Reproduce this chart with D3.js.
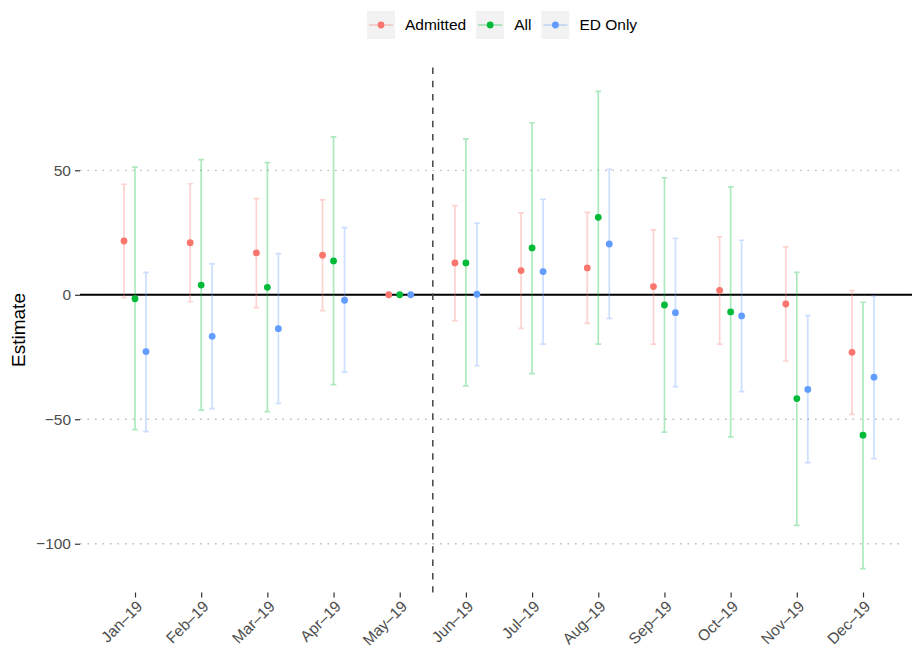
<!DOCTYPE html>
<html>
<head>
<meta charset="utf-8">
<script src="https://cdn.jsdelivr.net/npm/d3@7"></script>
<style>
  body { margin: 0; background: #fff; }
  svg { font-family: "Liberation Sans", Arial, sans-serif; }
</style>
</head>
<body>
<svg width="912" height="650"></svg>
<script>
// ---- data ----
const months = ['Jan\u201319', 'Feb\u201319', 'Mar\u201319', 'Apr\u201319', 'May\u201319', 'Jun\u201319',
                'Jul\u201319', 'Aug\u201319', 'Sep\u201319', 'Oct\u201319', 'Nov\u201319', 'Dec\u201319'];
const seriesNames = ['Admitted', 'All', 'ED Only'];
const seriesColors = ['#F8766D', '#00BA38', '#619CFF'];

const admittedEst = [21.6, 20.9, 16.8, 15.9, 0, 12.8, 9.7, 10.8, 3.3, 1.8, -3.7, -23.1];
const admittedLo  = [-1.2, -2.8, -5.2, -6.4, 0, -10.4, -13.5, -11.5, -19.8, -19.8, -26.6, -48.0];
const admittedHi  = [44.4, 44.6, 38.6, 38.1, 0, 35.8, 32.9, 33.1, 26.1, 23.3, 19.2, 1.7];

const allEst = [-1.6, 3.9, 3.0, 13.6, 0, 12.8, 18.8, 31.1, -4.1, -6.9, -41.7, -56.4];
const allLo  = [-54.2, -46.3, -46.9, -36.1, 0, -36.6, -31.7, -19.8, -55.2, -57.1, -92.6, -110.0];
const allHi  = [51.3, 54.3, 53.1, 63.4, 0, 62.6, 69.1, 81.7, 47.0, 43.3, 9.0, -3.0];

const edEst = [-22.8, -16.7, -13.6, -2.2, 0, 0.2, 9.3, 20.4, -7.2, -8.5, -38.0, -33.1];
const edLo  = [-55.0, -45.7, -43.6, -31.1, 0, -28.5, -19.8, -9.5, -36.9, -38.9, -67.4, -65.8];
const edHi  = [9.0, 12.4, 16.5, 27.0, 0, 28.8, 38.3, 50.4, 22.7, 21.9, -8.4, -0.5];

const yTicks = [-100, -50, 0, 50];
const cutAfter = 'May\u201319';   // dashed line sits between May and Jun

// build long table
const est = [admittedEst, allEst, edEst];
const lo = [admittedLo, allLo, edLo];
const hi = [admittedHi, allHi, edHi];
const rows = [];
seriesNames.forEach((s, si) => {
    months.forEach((m, mi) => {
        rows.push({ series: s, month: m, est: est[si][mi], lo: lo[si][mi], hi: hi[si][mi] });
    });
});

// ---- layout ----
const panel = { left: 80, right: 910, top: 67.5, bottom: 592.5 };
const svg = d3.select('svg');
const textColor = '#4d4d4d';

// ---- scales ----
const x = d3.scalePoint().domain(months).range([135, 863]);
const dodge = d3.scalePoint().domain(seriesNames).range([-11, 11]);
const color = d3.scaleOrdinal().domain(seriesNames).range(seriesColors);

const ext = [d3.min(rows, d => d.lo), d3.max(rows, d => d.hi)];
const pad = (ext[1] - ext[0]) * 0.05;
const y = d3.scaleLinear().domain([ext[0] - pad, ext[1] + pad]).range([panel.bottom, panel.top]);

// ---- grid ----
svg.append('g')
    .selectAll('line')
    .data(yTicks)
    .enter()
    .append('line')
    .attr('x1', panel.left)
    .attr('x2', panel.right - 6)
    .attr('y1', d => y(d))
    .attr('y2', d => y(d))
    .attr('stroke', '#bdbdbd')
    .attr('stroke-width', 1.3)
    .attr('stroke-dasharray', '1.6,5.9');

// ---- y axis ----
const yAxis = svg.append('g')
    .attr('transform', `translate(${panel.left},0)`)
    .call(d3.axisLeft(y).tickValues(yTicks).tickSize(5).tickPadding(4)
        .tickFormat(d => d < 0 ? '\u2212' + Math.abs(d) : d));
yAxis.select('.domain').remove();
yAxis.selectAll('.tick line').attr('stroke', '#333').attr('stroke-width', 1.2);
yAxis.selectAll('.tick text')
    .attr('fill', textColor)
    .style('font-size', '15.5px');

// ---- x axis ----
const xAxis = svg.append('g')
    .attr('transform', `translate(0,${panel.bottom})`)
    .call(d3.axisBottom(x).tickSize(5).tickPadding(0));
xAxis.select('.domain').remove();
xAxis.selectAll('.tick line').attr('stroke', '#333').attr('stroke-width', 1.2);
xAxis.selectAll('.tick text')
    .attr('fill', textColor)
    .style('font-size', '15.5px')
    .attr('text-anchor', 'end')
    .attr('dy', null)
    .attr('y', 0)
    .attr('dominant-baseline', 'hanging')
    .attr('transform', 'translate(0,7) rotate(-45)');

// ---- zero line and cut line ----
svg.append('line')
    .attr('x1', panel.left)
    .attr('x2', 912)
    .attr('y1', y(0))
    .attr('y2', y(0))
    .attr('stroke', '#000')
    .attr('stroke-width', 2);

const cutX = x(cutAfter) + x.step() / 2;
svg.append('line')
    .attr('x1', cutX)
    .attr('x2', cutX)
    .attr('y1', panel.top)
    .attr('y2', panel.bottom)
    .attr('stroke', '#444')
    .attr('stroke-width', 1.5)
    .attr('stroke-dasharray', '6.5,6.8');

// ---- error bars ----
const bars = rows.filter(d => d.hi !== d.lo);
const eb = svg.append('g').attr('class', 'errorbars');
const capW = 2.8;
bars.forEach(d => {
    const cx = x(d.month) + dodge(d.series);
    const g = eb.append('g')
        .attr('stroke', color(d.series))
        .attr('stroke-opacity', 0.32)
        .attr('stroke-width', 1.7)
        .attr('fill', 'none');
    g.append('path')
        .attr('d', `M${cx - capW},${y(d.hi)}H${cx + capW}M${cx},${y(d.hi)}V${y(d.lo)}M${cx - capW},${y(d.lo)}H${cx + capW}`);
});

// ---- points ----
svg.append('g')
    .selectAll('circle')
    .data(rows)
    .enter()
    .append('circle')
    .attr('cx', d => x(d.month) + dodge(d.series))
    .attr('cy', d => y(d.est))
    .attr('r', 3.4)
    .attr('fill', d => color(d.series));

// ---- y title ----
svg.append('text')
    .text('Estimate')
    .attr('transform', `translate(25,${(panel.top + panel.bottom) / 2}) rotate(-90)`)
    .attr('text-anchor', 'middle')
    .attr('fill', '#000')
    .style('font-size', '19px');

// ---- legend ----
const legend = svg.append('g').attr('transform', 'translate(367,11)');
let lx = 0;
seriesNames.forEach(s => {
    const item = legend.append('g').attr('transform', `translate(${lx},0)`);
    item.append('rect')
        .attr('width', 28).attr('height', 28)
        .attr('fill', '#f2f2f2');
    item.append('line')
        .attr('x1', 2).attr('x2', 26)
        .attr('y1', 14).attr('y2', 14)
        .attr('stroke', color(s))
        .attr('stroke-opacity', 0.32)
        .attr('stroke-width', 1.7);
    item.append('circle')
        .attr('cx', 14).attr('cy', 14).attr('r', 3.4)
        .attr('fill', color(s));
    const t = item.append('text')
        .text(s)
        .attr('x', 38)
        .attr('y', 14)
        .attr('dy', '0.35em')
        .attr('fill', '#000')
        .style('font-size', '15.5px');
    lx += 38 + t.node().getComputedTextLength() + 10;
});
</script>
</body>
</html>
